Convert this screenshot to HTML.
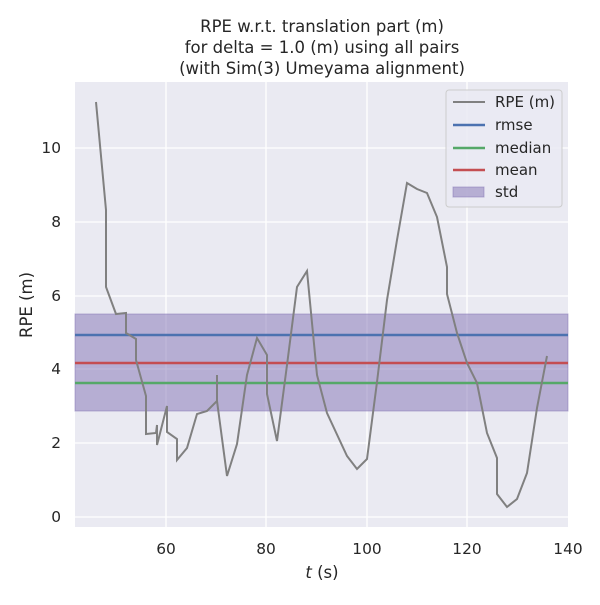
<!DOCTYPE html><html><head><style>body{margin:0;background:#fff}svg text{font-family:"DejaVu Sans","Liberation Sans",sans-serif;fill:#262626}</style></head><body>
<svg width="600" height="600" xmlns="http://www.w3.org/2000/svg">
<rect x="75" y="82" width="493" height="445" fill="#eaeaf2"/>
<g stroke="#fff" stroke-width="1.3">
<line x1="166" y1="82" x2="166" y2="527"/><line x1="266" y1="82" x2="266" y2="527"/><line x1="367" y1="82" x2="367" y2="527"/><line x1="467" y1="82" x2="467" y2="527"/>
<line x1="75" y1="517" x2="568" y2="517"/><line x1="75" y1="443" x2="568" y2="443"/><line x1="75" y1="369" x2="568" y2="369"/><line x1="75" y1="296" x2="568" y2="296"/><line x1="75" y1="222" x2="568" y2="222"/><line x1="75" y1="148" x2="568" y2="148"/>
</g>
<rect x="75" y="314" width="493" height="97" fill="#8172b3" fill-opacity="0.5" stroke="#8172b3" stroke-opacity="0.5"/>
<line x1="75" y1="335" x2="568" y2="335" stroke="#4c72b0" stroke-width="2.5"/>
<line x1="75" y1="363" x2="568" y2="363" stroke="#c44e52" stroke-width="2.5"/>
<line x1="75" y1="383" x2="568" y2="383" stroke="#55a868" stroke-width="2.5"/>
<polyline fill="none" stroke="#808080" stroke-width="2" points="96,102 106,210 106,287 116,314 126,313 126,333 136,339 136,360 146,396 146,434 156,433 157,425 157,445 167,406 167,432 177,439 177,460 187,448 197,414 207,411 217,401 217,375 217,401 227,476 237,444 247,375 257,338 267,355 267,394 277,441 287,365 297,287 307,271 317,375 327,413 347,456 357,469 367,459 377,382 387,300 397,240 407,183 417,189 427,193 437,217 447,267 447,294 457,333 467,363 477,383 487,433 497,458 497,494 507,507 517,499 527,473 537,408 547,356"/>
<g font-size="15.4" text-anchor="middle">
<text x="166" y="554">60</text><text x="266" y="554">80</text><text x="367" y="554">100</text><text x="467" y="554">120</text><text x="568" y="554">140</text>
<text x="322" y="578" font-size="16.5"><tspan font-style="italic">t</tspan> (s)</text>
<text x="322" y="32" font-size="16.5">RPE w.r.t. translation part (m)</text>
<text x="322" y="53" font-size="16.5">for delta = 1.0 (m) using all pairs</text>
<text x="322" y="74" font-size="16.5">(with Sim(3) Umeyama alignment)</text>
</g>
<g font-size="15.4" text-anchor="end">
<text x="61" y="522">0</text><text x="61" y="448">2</text><text x="61" y="374">4</text><text x="61" y="301">6</text><text x="61" y="227">8</text><text x="61" y="153">10</text>
</g>
<text transform="translate(32,305) rotate(-90)" font-size="16.5" text-anchor="middle">RPE (m)</text>
<rect x="446" y="90" width="116" height="117" rx="3" fill="#eaeaf2" fill-opacity="0.8" stroke="#ccc"/>
<g font-size="15">
<line x1="453" y1="102" x2="485" y2="102" stroke="#808080" stroke-width="2"/><text x="495" y="107">RPE (m)</text>
<line x1="453" y1="125" x2="485" y2="125" stroke="#4c72b0" stroke-width="2.5"/><text x="495" y="130">rmse</text>
<line x1="453" y1="148" x2="485" y2="148" stroke="#55a868" stroke-width="2.5"/><text x="495" y="153">median</text>
<line x1="453" y1="170" x2="485" y2="170" stroke="#c44e52" stroke-width="2.5"/><text x="495" y="175">mean</text>
<rect x="453" y="187" width="31" height="10" fill="#8172b3" fill-opacity="0.5" stroke="#8172b3" stroke-opacity="0.5"/><text x="495" y="197">std</text>
</g>
</svg></body></html>
